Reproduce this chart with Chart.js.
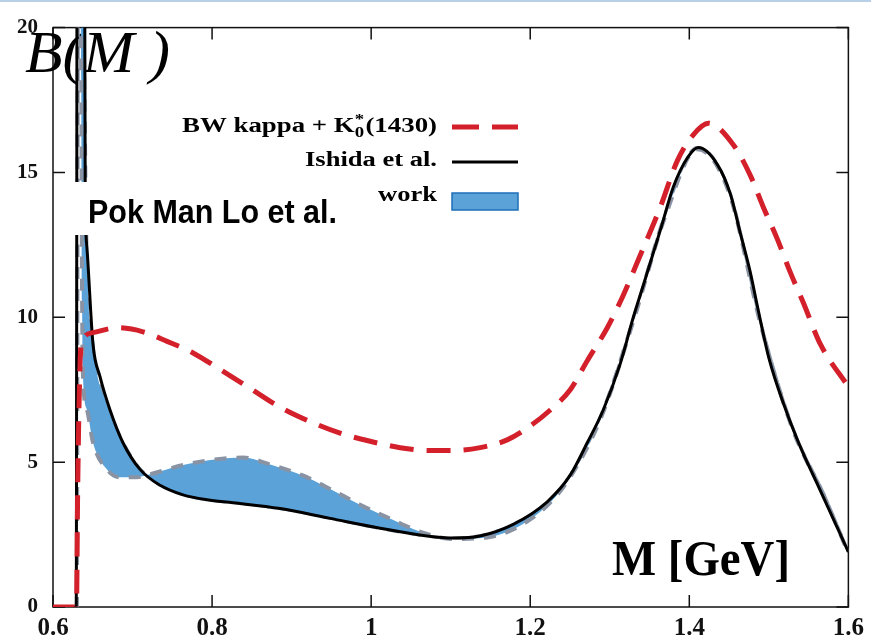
<!DOCTYPE html>
<html>
<head>
<meta charset="utf-8">
<script src="https://cdn.jsdelivr.net/npm/chart.js@4.4.1/dist/chart.umd.min.js"></script>
<style>
  html, body { margin: 0; padding: 0; background: #fff; }
</style>
</head>
<body>
<canvas id="chart" width="871" height="644"></canvas>
<script>
// BW kappa + K0*(1430) (red dashed)
const bwM = [0.600, 0.6295, 0.631, 0.634, 0.6365, 0.6503, 0.6805, 0.7132, 0.7434, 0.7761, 0.810, 0.8478,
  0.8855, 0.9233, 0.961, 0.9987, 1.0365, 1.0742, 1.1031, 1.137, 1.171, 1.200, 1.2252, 1.2503, 1.2717,
  1.2969, 1.317, 1.3346, 1.3635, 1.3849, 1.405, 1.4239, 1.4553, 1.4767, 1.4931, 1.5107, 1.527, 1.5434,
  1.5648, 1.600];
const bwVals = [0, 0, 4.0, 8.4, 9.17, 9.47, 9.64, 9.5, 9.17, 8.77, 8.2, 7.55,
  6.9, 6.4, 6.0, 5.72, 5.5, 5.4, 5.4, 5.5, 5.77, 6.25, 6.8, 7.5, 8.5,
  9.64, 10.76, 11.9, 13.8, 15.4, 16.3, 16.7, 15.96, 14.9, 13.8, 12.7, 11.55, 10.5,
  9.07, 7.6];

// Ishida et al. (black solid)
const ishidaM = [0.600, 0.6292, 0.6305, 0.6360, 0.6400, 0.6405, 0.6424, 0.6503, 0.6591, 0.6717, 0.688,
  0.7094, 0.7346, 0.7635, 0.7937, 0.8264, 0.8855, 0.9484, 1.0113, 1.0704, 1.1031, 1.137, 1.1786,
  1.2214, 1.2503, 1.2717, 1.2918, 1.3132, 1.3296, 1.3421, 1.3635, 1.3799, 1.3975, 1.4113, 1.4352,
  1.4516, 1.4642, 1.4767, 1.4855, 1.500, 1.520, 1.540, 1.560, 1.580, 1.600];
const ishidaVals = [0, 0, 25, 25, 20, 14.4, 12.5, 9.07, 7.95, 6.8, 5.67,
  4.75, 4.2, 3.87, 3.7, 3.6, 3.4, 3.06, 2.72, 2.45, 2.38, 2.45, 2.85,
  3.63, 4.55, 5.67, 6.8, 8.4, 10.0, 11.1, 13.0, 14.5, 15.5, 15.86, 15.28,
  14.26, 12.9, 11.55, 10.4, 8.6, 6.9, 5.5, 4.3, 3.1, 1.9];

// this work: band between a gray dashed edge and an inner edge
const workM = [0.600, 0.6300, 0.6315, 0.6355, 0.6366, 0.6377, 0.6428, 0.6503, 0.6679, 0.6843, 0.7057,
  0.722, 0.7635, 0.8063, 0.839, 0.873, 0.9132, 0.9509, 0.9862, 1.0264, 1.0616, 1.1031, 1.1459,
  1.1836, 1.2214, 1.25, 1.29, 1.33, 1.37, 1.41, 1.45, 1.49, 1.53, 1.57, 1.60];
const workEdge = [0, 0, 25, 18, 10.5, 7.95, 6.8, 5.67, 4.75, 4.48, 4.48,
  4.58, 4.9, 5.1, 5.16, 4.92, 4.55, 4.04, 3.53, 3.02, 2.6, 2.35, 2.4,
  2.75, 3.5, 4.47, 6.6, 9.9, 13.5, 15.8, 14.3, 9.72, 6.13, 3.8, 1.85];
const workInner = [0, 0, 25, 25, 24, 23, 12.3, 9.07, 7.0, 5.9, 4.9,
  4.45, 3.87, 3.66, 3.57, 3.45, 3.27, 3.05, 2.85, 2.63, 2.48, 2.38, 2.52,
  2.92, 3.63, 4.55, 6.7, 10.0, 13.6, 15.86, 14.4, 9.8, 6.2, 3.85, 1.9];

const xTicks = [0.6, 0.8, 1.0, 1.2, 1.4, 1.6];
const xTickLabels = ['0.6', '0.8', '1', '1.2', '1.4', '1.6'];
const yTicks = [0, 5, 10, 15, 20];
const yTickLabels = ['0', '5', '10', '15', '20'];

const RED = '#d3202b';
const BLUE = '#5aa2d8';
const GRAY = '#8a93a3';
const SERIF = '"Liberation Serif", "Times New Roman", serif';

function toPoints(xs, ys) {
  return xs.map((x, i) => ({ x: x, y: ys[i] }));
}

// draw text squeezed/stretched to a given width
function fitText(ctx, text, x, y, width) {
  const w = ctx.measureText(text).width;
  ctx.save();
  ctx.translate(x, y);
  ctx.scale(width / w, 1);
  ctx.fillText(text, 0, 0);
  ctx.restore();
}

const decor = {
  id: 'decor',
  beforeDraw(chart) {
    const ctx = chart.ctx;
    ctx.save();
    ctx.fillStyle = '#fff';
    ctx.fillRect(0, 0, chart.width, chart.height);
    ctx.strokeStyle = '#b7cfe7';
    ctx.lineWidth = 2;
    ctx.beginPath();
    ctx.moveTo(0, 1);
    ctx.lineTo(chart.width, 1);
    ctx.stroke();
    ctx.restore();
  },
  beforeDatasetsDraw(chart) {
    const ctx = chart.ctx;
    const a = chart.chartArea;
    const xs = chart.scales.x, ys = chart.scales.y;
    ctx.save();
    // frame with inward ticks
    ctx.strokeStyle = '#111';
    ctx.lineWidth = 1.5;
    ctx.strokeRect(a.left, a.top, a.right - a.left, a.bottom - a.top);
    ctx.beginPath();
    xTicks.forEach(v => {
      const px = xs.getPixelForValue(v);
      ctx.moveTo(px, a.bottom); ctx.lineTo(px, a.bottom - 12);
      ctx.moveTo(px, a.top); ctx.lineTo(px, a.top + 12);
    });
    yTicks.forEach(v => {
      const py = ys.getPixelForValue(v);
      ctx.moveTo(a.left, py); ctx.lineTo(a.left + 12, py);
      ctx.moveTo(a.right, py); ctx.lineTo(a.right - 12, py);
    });
    ctx.stroke();
    // B(M) label
    ctx.fillStyle = '#000';
    ctx.font = 'italic 60px ' + SERIF;
    ctx.textBaseline = 'alphabetic';
    fitText(ctx, 'B(M )', 25, 72, 145);
    ctx.restore();
  },
  afterDatasetsDraw(chart) {
    const ctx = chart.ctx;
    ctx.save();
    // author box
    ctx.fillStyle = '#fff';
    ctx.fillRect(75, 182, 270, 53);
    ctx.fillStyle = '#000';
    ctx.font = 'bold 34px "Liberation Sans Narrow", "Liberation Sans", Arial, sans-serif';
    ctx.textBaseline = 'alphabetic';
    fitText(ctx, 'Pok Man Lo et al.', 88, 223, 249);

    // legend
    const x1 = 452, x2 = 518;
    ctx.textBaseline = 'middle';
    ctx.font = 'bold 20px ' + SERIF;
    const w1 = ctx.measureText('BW kappa + K').width;
    const w2 = ctx.measureText('(1430)').width;
    ctx.font = 'bold 14px ' + SERIF;
    const ws = ctx.measureText('0').width;
    const total = w1 + ws + 1 + w2;
    ctx.save();
    ctx.translate(182, 127);
    ctx.scale(255 / total, 1);
    ctx.font = 'bold 20px ' + SERIF;
    ctx.fillText('BW kappa + K', 0, 0);
    ctx.fillText('(1430)', w1 + ws + 1, 0);
    ctx.font = 'bold 14px ' + SERIF;
    ctx.fillText('*', w1, -7);
    ctx.fillText('0', w1, 6);
    ctx.restore();
    ctx.font = 'bold 20px ' + SERIF;
    fitText(ctx, 'Ishida et al.', 305, 161, 132);
    fitText(ctx, 'work', 378, 196, 59);

    ctx.lineWidth = 5;
    ctx.strokeStyle = RED;
    ctx.setLineDash([27, 13]);
    ctx.beginPath(); ctx.moveTo(x1, 127); ctx.lineTo(x2, 127); ctx.stroke();
    ctx.setLineDash([]);
    ctx.lineWidth = 3;
    ctx.strokeStyle = '#000';
    ctx.beginPath(); ctx.moveTo(x1, 162); ctx.lineTo(x2, 162); ctx.stroke();
    ctx.fillStyle = BLUE;
    ctx.fillRect(x1, 193, x2 - x1, 17);
    ctx.lineWidth = 1.5;
    ctx.strokeStyle = '#1d6fb8';
    ctx.strokeRect(x1, 193, x2 - x1, 17);

    // axis title
    ctx.fillStyle = '#000';
    ctx.textBaseline = 'alphabetic';
    ctx.font = 'bold 50px ' + SERIF;
    fitText(ctx, 'M [GeV]', 612, 575, 178);
    ctx.restore();
  }
};

new Chart(document.getElementById('chart'), {
  type: 'line',
  data: {
    datasets: [
      {
        label: 'BW kappa + K0*(1430)',
        data: toPoints(bwM, bwVals),
        borderColor: RED,
        borderWidth: 5,
        borderDash: [24, 13],
        pointRadius: 0,
        fill: false,
        cubicInterpolationMode: 'monotone',
        order: 0
      },
      {
        label: 'Ishida et al.',
        data: toPoints(ishidaM, ishidaVals),
        borderColor: '#000',
        borderWidth: 3,
        pointRadius: 0,
        fill: false,
        cubicInterpolationMode: 'monotone',
        order: 1
      },
      {
        label: 'work',
        data: toPoints(workM, workEdge),
        borderColor: GRAY,
        borderWidth: 4,
        borderDash: [12, 10],
        backgroundColor: BLUE,
        pointRadius: 0,
        fill: 3,
        cubicInterpolationMode: 'monotone',
        order: 2
      },
      {
        label: 'work inner',
        data: toPoints(workM, workInner),
        borderColor: GRAY,
        borderWidth: 3,
        borderDash: [12, 10],
        pointRadius: 0,
        fill: false,
        cubicInterpolationMode: 'monotone',
        order: 3
      }
    ]
  },
  options: {
    responsive: false,
    animation: false,
    devicePixelRatio: 1,
    layout: { padding: { top: 20, right: 22, left: 0, bottom: 0 } },
    plugins: { legend: { display: false }, tooltip: { enabled: false } },
    scales: {
      x: {
        type: 'linear',
        min: 0.6,
        max: 1.6,
        afterBuildTicks: s => { s.ticks = xTicks.map(v => ({ value: v })); },
        afterFit: s => { s.height = 37; },
        grid: { display: false, drawTicks: false },
        border: { display: false },
        ticks: {
          callback: (v, i) => xTickLabels[i],
          font: { family: SERIF, size: 25, weight: 'bold' },
          color: '#111',
          padding: 7,
          maxRotation: 0,
          autoSkip: false
        }
      },
      y: {
        type: 'linear',
        min: 0,
        max: 20,
        afterBuildTicks: s => { s.ticks = yTicks.map(v => ({ value: v })); },
        afterFit: s => { s.width = 53; },
        grid: { display: false, drawTicks: false },
        border: { display: false },
        ticks: {
          callback: (v, i) => yTickLabels[i],
          font: { family: SERIF, size: 21, weight: 'bold' },
          color: '#111',
          padding: 15
        }
      }
    }
  },
  plugins: [decor]
});
</script>
</body>
</html>
